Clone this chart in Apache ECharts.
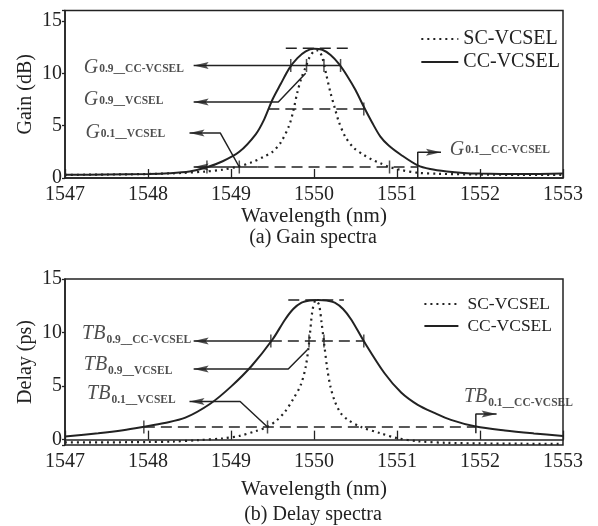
<!DOCTYPE html>
<html><head><meta charset="utf-8">
<script src="https://cdn.jsdelivr.net/npm/echarts@6/dist/echarts.min.js"></script>
<style>html,body{margin:0;padding:0;background:#fff}#c{width:598px;height:526px}</style>
</head><body><div id="c"></div>
<script>
const FONT = "'Liberation Serif','Times New Roman',serif";
const INK = '#222';

// ---------- axes ----------
const wlMin = 1547, wlMax = 1553;
const gainMin = 0, gainMax = 16;
const delayMin = -0.5, delayMax = 15;

// ---------- (a) Gain spectra ----------
const gainScX = [1547.0, 1547.5, 1548.0, 1548.4, 1548.7, 1548.9, 1549.1, 1549.25, 1549.4, 1549.5, 1549.6, 1549.7, 1549.75, 1549.8, 1549.85, 1549.9, 1549.95, 1550.0, 1550.05, 1550.1, 1550.15, 1550.2, 1550.25, 1550.3, 1550.38, 1550.48, 1550.6, 1550.7, 1550.8, 1550.91, 1551.05, 1551.25, 1551.5, 1552.0, 1552.5, 1553.0];
const gainScY = [0.3, 0.33, 0.38, 0.48, 0.62, 0.8, 1.12, 1.5, 2.05, 2.5, 3.4, 5.0, 6.4, 8.2, 9.6, 10.6, 11.6, 12.1, 12.2, 11.5, 9.8, 8.1, 6.7, 5.35, 3.9, 2.87, 2.2, 1.75, 1.4, 1.05, 0.76, 0.5, 0.4, 0.33, 0.3, 0.3];
const gainCcX = [1547.0, 1547.5, 1548.0, 1548.25, 1548.5, 1548.7, 1548.9, 1549.1, 1549.3, 1549.4, 1549.5, 1549.6, 1549.7, 1549.8, 1549.9, 1550.0, 1550.1, 1550.2, 1550.3, 1550.4, 1550.5, 1550.6, 1550.7, 1550.8, 1550.9, 1551.05, 1551.25, 1551.4, 1551.6, 1551.8, 1552.0, 1552.5, 1553.0];
const gainCcY = [0.3, 0.33, 0.38, 0.45, 0.62, 1.0, 1.6, 2.5, 4.2, 5.6, 7.5, 9.0, 10.45, 11.45, 12.1, 12.35, 12.25, 11.75, 10.9, 9.75, 8.4, 6.8, 5.3, 3.95, 3.1, 2.2, 1.2, 0.85, 0.62, 0.48, 0.42, 0.38, 0.42];

// ---------- (b) Delay spectra ----------
const delayScX = [1547.0, 1547.5, 1548.0, 1548.3, 1548.6, 1548.9, 1549.1, 1549.3, 1549.44, 1549.55, 1549.65, 1549.75, 1549.84, 1549.9, 1549.94, 1549.98, 1550.02, 1550.06, 1550.09, 1550.12, 1550.16, 1550.2, 1550.25, 1550.32, 1550.4, 1550.56, 1550.8, 1551.0, 1551.25, 1551.6, 1552.0, 1552.5, 1553.0];
const delayScY = [-0.25, -0.25, -0.22, -0.18, -0.05, 0.12, 0.35, 0.8, 1.2, 1.8, 2.6, 3.8, 5.1, 6.8, 9.0, 12.0, 13.0, 12.6, 11.0, 9.1, 6.6, 4.9, 3.6, 2.5, 1.9, 1.2, 0.6, 0.14, -0.15, -0.3, -0.35, -0.38, -0.4];
const delayCcX = [1547.0, 1547.4, 1547.7, 1547.95, 1548.2, 1548.45, 1548.75, 1549.0, 1549.25, 1549.5, 1549.65, 1549.75, 1549.85, 1549.95, 1550.05, 1550.15, 1550.25, 1550.35, 1550.45, 1550.6, 1550.85, 1551.05, 1551.25, 1551.45, 1551.65, 1551.95, 1552.3, 1552.65, 1553.0];
const delayCcY = [0.3, 0.6, 0.88, 1.2, 1.55, 2.05, 3.35, 4.95, 6.9, 9.35, 11.2, 12.2, 12.8, 13.0, 13.05, 13.0, 12.8, 12.2, 11.2, 9.2, 6.2, 4.4, 3.25, 2.5, 1.85, 1.22, 0.85, 0.58, 0.35];

// ---------- annotations (data units) ----------
const gPeakLine = [[1549.66, 12.4], [1550.45, 12.4]];
const g09Line = [[1548.55, 10.75], [1550.32, 10.75]];
const g09Ticks = [1549.72, 1549.91, 1550.12, 1550.32];
const g09Level = 10.75;
const g09VLine = [[1548.55, 7.25], [1549.57, 7.25], [1549.9, 10.0]];
const gHalfLine = [[1549.45, 6.6], [1550.6, 6.6]];
const gHalfTicks = [1550.6];
const gHalfLevel = 6.6;
const g01VLine = [[1548.5, 4.3], [1548.87, 4.3], [1549.1, 1.05]];
const g01Solid = [[1548.55, 1.05], [1549.32, 1.05]];
const g01Dash = [[1549.32, 1.05], [1551.25, 1.05]];
const g01Ticks = [1548.71, 1549.1, 1550.91];
const g01Level = 1.05;
const g01CcLine = [[1551.25, 0], [1551.25, 2.45], [1551.53, 2.45]];
const gArrowsLeft = [[1548.55, 10.75], [1548.55, 7.25], [1548.5, 4.3], [1548.55, 1.05]];
const gArrowsRight = [[1551.53, 2.45]];
const gLabels = [
  ['G', '0.9__CC-VCSEL', 1547.22, 10.5],
  ['G', '0.9__VCSEL', 1547.22, 7.45],
  ['G', '0.1__VCSEL', 1547.24, 4.3],
  ['G', '0.1__CC-VCSEL', 1551.63, 2.72]
];

const tPeakLine = [[1549.69, 13.05], [1550.36, 13.05]];
const t09Solid = [[1548.55, 9.2], [1549.48, 9.2]];
const t09Dash = [[1549.48, 9.2], [1550.6, 9.2]];
const t09Ticks = [1549.48, 1549.94, 1550.12, 1550.6];
const t09Level = 9.2;
const t09VLine = [[1548.55, 6.6], [1549.69, 6.6], [1549.92, 8.4]];
const t01VLine = [[1548.5, 3.56], [1549.11, 3.56], [1549.44, 1.18]];
const t01Dash = [[1547.95, 1.18], [1551.95, 1.18]];
const t01Ticks = [1547.95, 1549.44];
const t01Level = 1.18;
const t01CcLine = [[1551.95, 0.6], [1551.95, 2.4], [1552.2, 2.4]];
const tArrowsLeft = [[1548.55, 9.2], [1548.55, 6.6], [1548.5, 3.56]];
const tArrowsRight = [[1552.2, 2.4]];
const tLabels = [
  ['TB', '0.9__CC-VCSEL', 1547.2, 9.9],
  ['TB', '0.9__VCSEL', 1547.22, 7.0],
  ['TB', '0.1__VCSEL', 1547.26, 4.3],
  ['TB', '0.1__CC-VCSEL', 1551.8, 4.0]
];

// ---------- helpers ----------
function xy(xs, ys) { return xs.map((x, i) => [x, ys[i]]); }
function curve(name, xs, ys, ax, dotted) {
  return {
    name, type: 'line', xAxisIndex: ax, yAxisIndex: ax, data: xy(xs, ys),
    symbol: 'none', smooth: 0.3, silent: true, z: 3, emphasis: { disabled: true },
    itemStyle: { color: INK },
    lineStyle: dotted ? { color: INK, width: 2.2, type: [2, 4] } : { color: INK, width: 2 }
  };
}
function seg(points, ax, dashed) {
  return {
    type: 'line', xAxisIndex: ax, yAxisIndex: ax, data: points, symbol: 'none',
    silent: true, z: 4, emphasis: { disabled: true },
    lineStyle: { color: INK, width: 1.5, type: dashed ? [11, 6] : 'solid' }
  };
}
const ARROW_L = 'path://M0,5L16,0L13,5L16,10Z';
const ARROW_R = 'path://M16,5L0,0L3,5L0,10Z';
function arrows(points, ax, dir) {
  return {
    type: 'scatter', xAxisIndex: ax, yAxisIndex: ax, data: points, silent: true, z: 5,
    emphasis: { disabled: true },
    symbol: dir === 'L' ? ARROW_L : ARROW_R, symbolSize: [15, 7],
    symbolOffset: [dir === 'L' ? 7.5 : -7.5, 0], itemStyle: { color: INK }
  };
}
function ticks(xs, y, ax) {
  return {
    type: 'scatter', xAxisIndex: ax, yAxisIndex: ax, data: xs.map(x => [x, y]),
    symbol: 'rect', symbolSize: [1.5, 13], silent: true, z: 5,
    emphasis: { disabled: true }, itemStyle: { color: INK }
  };
}
function labels(items, ax, subPad) {
  return {
    type: 'scatter', xAxisIndex: ax, yAxisIndex: ax, silent: true, z: 6,
    emphasis: { disabled: true }, symbolSize: 1, itemStyle: { color: 'rgba(0,0,0,0)' },
    data: items.map(([m, s, x, y]) => ({ value: [x, y], label: { formatter: '{m|' + m + '}{s|' + s + '}' } })),
    label: {
      show: true, position: 'right', distance: 0,
      rich: {
        m: { fontFamily: FONT, fontStyle: 'italic', fontSize: 20, color: INK, lineHeight: 26 },
        s: { fontFamily: FONT, fontWeight: 'bold', fontSize: 11.5, color: INK, padding: [subPad, 0, 0, 1] }
      }
    }
  };
}
function xAxis(gi, gap) {
  return {
    gridIndex: gi, type: 'value', min: wlMin, max: wlMax, interval: 1,
    name: 'Wavelength (nm)', nameLocation: 'middle', nameGap: gap,
    nameTextStyle: { fontFamily: FONT, fontSize: 21, color: INK },
    axisLine: { lineStyle: { color: INK, width: 1.5 } },
    axisTick: { inside: true, length: 9, lineStyle: { color: INK, width: 1.3 } },
    axisLabel: { fontFamily: FONT, fontSize: 20, color: INK, margin: 7, formatter: v => String(v) },
    splitLine: { show: false }
  };
}
function yAxis(gi, name, mn, mx, extra) {
  return Object.assign({
    gridIndex: gi, type: 'value', min: mn, max: mx,
    name, nameLocation: 'middle', nameGap: 29, nameMoveOverlap: false,
    nameTextStyle: { fontFamily: FONT, fontSize: 20, color: INK },
    axisLine: { lineStyle: { color: INK, width: 1.5 } },
    axisTick: { show: true, length: 3, lineStyle: { color: INK, width: 1.3 } },
    axisLabel: { fontFamily: FONT, fontSize: 20, color: INK, margin: 3,
      formatter: v => (Math.abs(v % 5) < 1e-9 ? String(v) : '') },
    splitLine: { show: false }
  }, extra);
}
function legend(top, right, iconW, fontSize, textPad, gap) {
  return {
    data: ['SC-VCSEL', 'CC-VCSEL'], orient: 'vertical', right, top,
    itemWidth: iconW, itemHeight: 14, itemGap: gap, selectedMode: false,
    itemStyle: { color: 'rgba(0,0,0,0)', borderWidth: 0 },
    textStyle: { fontFamily: FONT, fontSize, color: INK, padding: [0, 0, 0, textPad] }
  };
}

const chart = echarts.init(document.getElementById('c'), null, { renderer: 'canvas' });
chart.setOption({
  animation: false,
  backgroundColor: '#fff',
  grid: [
    { left: 65, top: 10.5, width: 498, height: 167.5, show: true, borderColor: INK, borderWidth: 1.5 },
    { left: 65, top: 279, width: 498, height: 166, show: true, borderColor: INK, borderWidth: 1.5 }
  ],
  xAxis: [xAxis(0, 27), xAxis(1, 34)],
  yAxis: [
    yAxis(0, 'Gain (dB)', gainMin, gainMax, { interval: 5 }),
    yAxis(1, 'Delay (ps)', delayMin, delayMax, { splitNumber: 3 })
  ],
  legend: [legend(24, 33, 37, 20, 0, 3), legend(290, 41, 34, 17.5, 4, 4)],
  graphic: [
    { type: 'text', x: 313, y: 238, style: { text: '(a) Gain spectra', font: '20px ' + FONT, fill: INK, align: 'center', verticalAlign: 'middle' } },
    { type: 'text', x: 313, y: 515, style: { text: '(b) Delay spectra', font: '20px ' + FONT, fill: INK, align: 'center', verticalAlign: 'middle' } }
  ],
  series: [
    curve('SC-VCSEL', gainScX, gainScY, 0, true),
    curve('CC-VCSEL', gainCcX, gainCcY, 0, false),
    seg(gPeakLine, 0, true),
    seg(g09Line, 0, false),
    ticks(g09Ticks, g09Level, 0),
    seg(g09VLine, 0, false),
    seg(gHalfLine, 0, true),
    ticks(gHalfTicks, gHalfLevel, 0),
    seg(g01VLine, 0, false),
    seg(g01Solid, 0, false),
    seg(g01Dash, 0, true),
    ticks(g01Ticks, g01Level, 0),
    seg(g01CcLine, 0, false),
    arrows(gArrowsLeft, 0, 'L'),
    arrows(gArrowsRight, 0, 'R'),
    labels(gLabels, 0, 2),

    curve('SC-VCSEL', delayScX, delayScY, 1, true),
    curve('CC-VCSEL', delayCcX, delayCcY, 1, false),
    seg(tPeakLine, 1, true),
    seg(t09Solid, 1, false),
    seg(t09Dash, 1, true),
    ticks(t09Ticks, t09Level, 1),
    seg(t09VLine, 1, false),
    seg(t01VLine, 1, false),
    seg(t01Dash, 1, true),
    ticks(t01Ticks, t01Level, 1),
    seg(t01CcLine, 1, false),
    arrows(tArrowsLeft, 1, 'L'),
    arrows(tArrowsRight, 1, 'R'),
    labels(tLabels, 1, 12)
  ]
});
</script></body></html>
